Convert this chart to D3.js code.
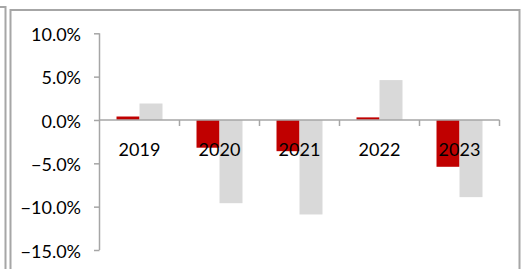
<!DOCTYPE html>
<html>
<head>
<meta charset="utf-8">
<script src="https://cdn.jsdelivr.net/npm/d3@7"></script>
<style>
  body { margin: 0; background: #fff; }
  text { font-family: Lato, "Open Sans", sans-serif; fill: #000; }
</style>
</head>
<body>
<div class="chart"></div>
<script>
// chart data
var years = ["2019", "2020", "2021", "2022", "2023"];
var seriesNames = ["red", "gray"];
var redValues = [0.4, -3.2, -3.6, 0.3, -5.4];
var grayValues = [1.9, -9.6, -10.9, 4.6, -8.9];
var yTicks = [10, 5, 0, -5, -10, -15];

var svgWidth = 522;
var svgHeight = 269;
var colors = { red: "#C00000", gray: "#D9D9D9" };

var svg = d3.select(".chart")
  .append("svg")
  .attr("width", svgWidth)
  .attr("height", svgHeight);

// frame lines (edge of neighbouring box + chart box)
svg.append("path")
  .attr("d", "M0,7 H5.5 V269")
  .attr("fill", "none")
  .attr("stroke", "#a6a6a6")
  .attr("stroke-width", 2);
svg.append("path")
  .attr("d", "M10.5,269 V10 H519.5 V269")
  .attr("fill", "none")
  .attr("stroke", "#a6a6a6")
  .attr("stroke-width", 2);

// scales
var x = d3.scaleBand()
  .domain(years)
  .range([99.5, 499.5])
  .padding(0);

var xSub = d3.scaleBand()
  .domain(seriesNames)
  .range([0, x.bandwidth()])
  .paddingInner(0)
  .paddingOuter(0.74);

var y = d3.scaleLinear()
  .domain([-15, 10])
  .range([250, 33.3]);

var rows = years.map(function(yr, i) {
  return { year: yr, red: redValues[i], gray: grayValues[i] };
});

// bars
var groups = svg.selectAll(".year")
  .data(rows)
  .enter()
  .append("g")
  .attr("class", "year")
  .attr("transform", d => `translate(${x(d.year)},0)`);

groups.selectAll("rect")
  .data(d => seriesNames.map(k => ({ key: k, value: d[k] })))
  .enter()
  .append("rect")
  .attr("x", d => xSub(d.key))
  .attr("width", xSub.bandwidth())
  .attr("y", d => y(Math.max(0, d.value)))
  .attr("height", d => Math.abs(y(d.value) - y(0)))
  .attr("fill", d => colors[d.key]);

// y axis
var leftAxis = d3.axisLeft(y)
  .tickValues(yTicks)
  .tickSize(5.5)
  .tickPadding(13)
  .tickFormat(d => d3.format(".1f")(d) + "%");

var yAxisG = svg.append("g")
  .attr("transform", "translate(99.5,0)")
  .call(leftAxis);
yAxisG.select(".domain").attr("d", `M0,${y(-15)}V${y(10)}`).attr("stroke", "#a6a6a6").attr("stroke-width", 1.5);
yAxisG.selectAll(".tick line").attr("stroke", "#a6a6a6").attr("stroke-width", 1.5);
yAxisG.selectAll(".tick text")
  .attr("font-size", "18px")
  .attr("font-family", "Lato, sans-serif")
  .attr("fill", "#000")
  .attr("dy", "0.4em");

// x axis at zero
var xAxisG = svg.append("g");
xAxisG.append("line")
  .attr("x1", x.range()[0])
  .attr("x2", x.range()[1])
  .attr("y1", y(0))
  .attr("y2", y(0))
  .attr("stroke", "#a6a6a6")
  .attr("stroke-width", 1.5);

var bounds = years.map(d => x(d)).concat([x.range()[1]]).slice(1);
xAxisG.selectAll(".xtick")
  .data(bounds)
  .enter()
  .append("line")
  .attr("class", "xtick")
  .attr("x1", d => d)
  .attr("x2", d => d)
  .attr("y1", y(0))
  .attr("y2", y(0) + 6)
  .attr("stroke", "#a6a6a6")
  .attr("stroke-width", 1.5);

xAxisG.selectAll(".xlabel")
  .data(years)
  .enter()
  .append("text")
  .attr("class", "xlabel")
  .attr("x", d => x(d) + x.bandwidth() / 2)
  .attr("y", 156)
  .attr("text-anchor", "middle")
  .attr("font-size", "18px")
  .text(d => d);
</script>
</body>
</html>
